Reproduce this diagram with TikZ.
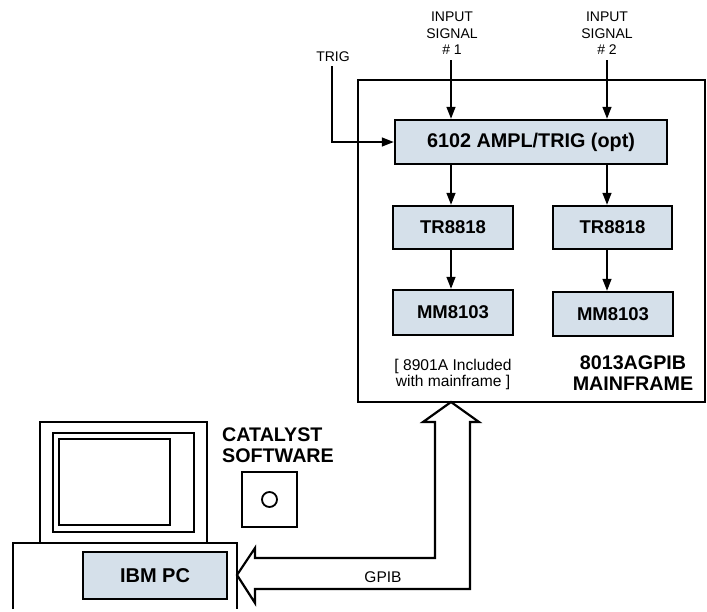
\documentclass[tikz,border=0pt]{standalone}
\usepackage{fontspec}
\setmainfont{Liberation Sans}
\usetikzlibrary{arrows.meta}
\definecolor{boxfill}{RGB}{213,224,234}
\begin{document}
\begin{tikzpicture}[x=1pt,y=-1pt,
  unit/.style={draw, line width=2.5pt, fill=boxfill, inner sep=0pt,
    font=\fontsize{18.5}{20}\selectfont\bfseries},
  sig/.style={line width=1.5pt, -{Triangle[length=12pt,width=9pt]}},
  lbl/.style={font=\fontsize{14}{16.5}\selectfont, align=center, inner sep=0pt},
  bigbold/.style={font=\fontsize{19.7}{20.5}\selectfont\bfseries, align=center, inner sep=0pt},
  outline/.style={draw, line width=2.5pt}]
\useasboundingbox (0,0) rectangle (707,611);

% mainframe enclosure
\node[outline, line width=2.8pt, minimum width=347pt, minimum height=322pt] (mf) at (531.5,241) {};

% plug-in units
\node[unit, minimum width=272pt, minimum height=44pt, font=\fontsize{19.8}{20}\selectfont\bfseries] (ampl) at (531,142) {6102 AMPL/TRIG (opt)};
\node[unit, minimum width=120pt, minimum height=43pt] (tra) at (453,227.5) {TR8818};
\node[unit, minimum width=119pt, minimum height=43pt] (trb) at (612.5,227.5) {TR8818};
\node[unit, minimum width=120pt, minimum height=45pt] (mma) at (453,312.5) {MM8103};
\node[unit, minimum width=120pt, minimum height=44pt] (mmb) at (613,314) {MM8103};

% input signals
\coordinate (ina) at (451,60);
\coordinate (inb) at (607,60);
\node[lbl, anchor=south] (ina lbl) at (452,55) {INPUT\\SIGNAL\\\# 1};
\node[lbl, anchor=south] (inb lbl) at (607,55) {INPUT\\SIGNAL\\\# 2};
\draw[sig] (ina) -- (ina |- ampl.north);
\draw[sig] (inb) -- (inb |- ampl.north);
\draw[sig] (ina |- ampl.south) -- (ina |- tra.north);
\draw[sig] (inb |- ampl.south) -- (inb |- trb.north);
\draw[sig] (ina |- tra.south) -- (ina |- mma.north);
\draw[sig] (inb |- trb.south) -- (inb |- mmb.north);

% trigger input
\node[lbl] (trig lbl) at (333,57) {TRIG};
\coordinate (trig) at (332,66);
\draw[sig] (trig) |- (ampl.west);

% mainframe notes
\node[lbl, font=\fontsize{15.6}{15.5}\selectfont] (note) at (453,374.5) {[ 8901A Included\\with mainframe ]};
\node[bigbold] (mflbl) at (633,373) {8013AGPIB\\MAINFRAME};

% personal computer
\draw[outline] (40,543) -- (40,422) -- (207,422) -- (207,543);
\draw[line width=1.8pt] (53,433) rectangle (194,532);
\draw[line width=1.8pt] (59,439) rectangle (170,525);
\draw[outline] (13,609) -- (13,543) -- (237,543) -- (237,609);
\node[unit, minimum width=144pt, minimum height=47pt, font=\fontsize{20}{20}\selectfont\bfseries] (pc) at (155,575.5) {IBM PC};

% software disk
\node[bigbold, anchor=west, align=left] (sw) at (222,445) {CATALYST\\SOFTWARE};
\draw[line width=1.8pt] (242,472) rectangle (297,527);
\draw[line width=1.8pt] (269.5,499.5) circle (7.5);

% GPIB bus
\draw[line width=2.2pt, line join=miter]
  (451,402) -- (479,422) -- (470,422) -- (470,589) -- (255,589) -- (255,603)
  -- (237,575) -- (255,548) -- (255,558) -- (435,558) -- (435,422) -- (423,422) -- cycle;
\node[lbl, font=\fontsize{15.5}{15}\selectfont] (gpib) at (383,577) {GPIB};
\end{tikzpicture}
\end{document}
